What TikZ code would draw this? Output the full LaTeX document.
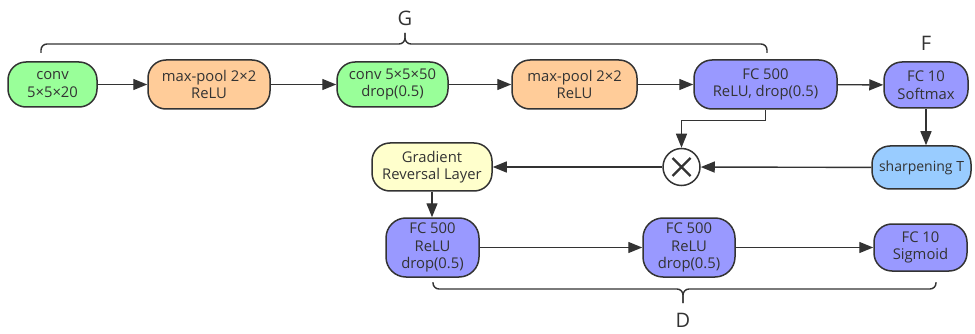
\documentclass[tikz,border=0pt]{standalone}
\usepackage{fontspec}
\setmainfont{Open Sans}
\usetikzlibrary{arrows.meta}
\definecolor{edge}{HTML}{333333}
\definecolor{convgreen}{HTML}{99FF99}
\definecolor{poolorange}{HTML}{FFCC99}
\definecolor{fcviolet}{HTML}{9999FF}
\definecolor{grlyellow}{HTML}{FFFFCC}
\definecolor{sharpblue}{HTML}{99CCFF}
\tikzset{
  layer/.style={draw=edge, line width=1.5pt, rounded corners=18pt, inner sep=0pt,
    align=center, text=edge, font=\fontsize{14.8}{17.5}\selectfont},
  conv/.style={layer, fill=convgreen},
  pool/.style={layer, fill=poolorange},
  fc/.style={layer, fill=fcviolet},
  conn/.style={draw=edge, line width=1.4pt, -{Triangle[length=14pt,width=11pt]}},
  brace/.style={draw=edge, line width=1.4pt, rounded corners=6pt},
  tag/.style={text=edge, font=\fontsize{20}{22}\selectfont}
}
\begin{document}
\begin{tikzpicture}[x=1pt,y=-1pt]
\useasboundingbox (0,0) rectangle (975,334);

% feature extractor row
\node[conv, minimum width=89pt, minimum height=45pt] (c1) at (52.5,84.5) {conv\\5×5×20};
\node[pool, minimum width=122pt, minimum height=49pt] (p1) at (209,84.5) {max-pool 2×2\\ReLU};
\node[conv, minimum width=111pt, minimum height=45pt] (c2) at (392.5,84.5) {conv 5×5×50\\drop(0.5)};
\node[pool, minimum width=125pt, minimum height=49pt] (p2) at (574.5,84.5) {max-pool 2×2\\ReLU};
\node[fc, minimum width=143pt, minimum height=49pt] (f1) at (765.5,84.5) {FC 500\\ReLU, drop(0.5)};
\node[fc, minimum width=84pt, minimum height=46pt] (sm) at (926,85) {FC 10\\Softmax};

% middle row
\node[layer, fill=sharpblue, minimum width=99pt, minimum height=43pt,
  font=\fontsize{14}{17}\selectfont] (sh) at (921.5,167.5) {sharpening T};
\node[draw=edge, line width=1.5pt, circle, minimum size=37pt, inner sep=0pt, fill=white,
  path picture={\draw[edge, line width=2.2pt]
    ([shift={(-9pt,-9pt)}]path picture bounding box.center) -- ([shift={(9pt,9pt)}]path picture bounding box.center)
    ([shift={(-9pt,9pt)}]path picture bounding box.center) -- ([shift={(9pt,-9pt)}]path picture bounding box.center);}]
  (mul) at (681.5,167) {};
\node[layer, fill=grlyellow, minimum width=120pt, minimum height=48pt] (grl) at (432,167) {Gradient\\Reversal Layer};

% discriminator row
\node[fc, minimum width=93pt, minimum height=59pt, rounded corners=20pt] (d1) at (432.5,247.5) {FC 500\\ReLU\\drop(0.5)};
\node[fc, minimum width=92pt, minimum height=59pt, rounded corners=20pt] (d2) at (689,247.5) {FC 500\\ReLU\\drop(0.5)};
\node[fc, minimum width=93pt, minimum height=47pt] (d3) at (920.5,247.5) {FC 10\\Sigmoid};

% connectors
\draw[conn] (c1) -- (p1);
\draw[conn] (p1) -- (c2);
\draw[conn] (c2) -- (p2);
\draw[conn] (p2) -- (f1);
\draw[conn] (f1) -- (sm);
\draw[conn] (f1.south) -- ++(0,11) -| (mul.north);
\draw[conn] (sm.south) -- (sm.south |- sh.north);
\draw[conn] (sh) -- (mul);
\draw[conn] (mul) -- (grl);
\draw[conn] (grl.south) -- (grl.south |- d1.north);
\draw[conn] (d1) -- (d2);
\draw[conn] (d2) -- (d3);

% group braces
\coordinate (gl) at (41,53);
\coordinate (gr) at (767,53);
\coordinate (gt) at (405,33);
\draw[brace] (gl) -- (gl |- 0,44) -- (gt |- 0,44) -- (gt);
\draw[brace] (gr) -- (gr |- 0,44) -- (gt |- 0,44) -- (gt);
\node[tag] (G) at (405,18) {G};
\node[tag] (F) at (926,43) {F};

\coordinate (dl) at (433,282);
\coordinate (dr) at (936,282);
\coordinate (dt) at (683,303);
\draw[brace] (dl) -- (dl |- 0,289) -- (dt |- 0,289) -- (dt);
\draw[brace] (dr) -- (dr |- 0,289) -- (dt |- 0,289) -- (dt);
\node[tag] (D) at (683,320) {D};
\end{tikzpicture}
\end{document}
